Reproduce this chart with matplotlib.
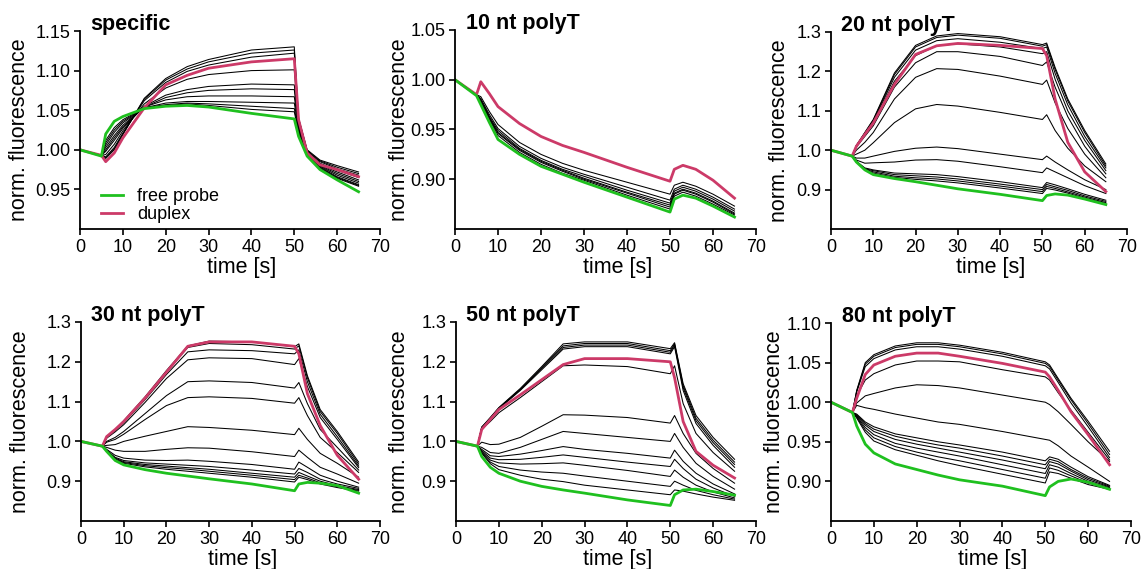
import matplotlib as mpl
import matplotlib.pyplot as plt
from matplotlib.ticker import FormatStrFormatter

mpl.use('Agg')
plt.rcParams['font.family'] = ['Liberation Sans', 'DejaVu Sans']

# sampling times [s], shared by every trace
t_s = [0, 5, 6, 8, 10, 15, 20, 25, 30, 40, 50, 51, 53, 56, 60, 65]

# --- specific ---
spec_free = [1.000, 0.992, 1.020, 1.036, 1.042, 1.052, 1.055, 1.056, 1.054, 1.046, 1.039, 1.017, 0.992, 0.975, 0.962, 0.947]
spec_duplex = [1.000, 0.993, 0.985, 0.996, 1.015, 1.053, 1.082, 1.094, 1.103, 1.111, 1.115, 1.038, 0.996, 0.981, 0.975, 0.966]
spec_titr = [
    [1.000, 0.993, 0.989, 1.000, 1.019, 1.065, 1.090, 1.105, 1.114, 1.126, 1.130, 1.040, 1.000, 0.987, 0.980, 0.972],
    [1.000, 0.993, 0.990, 1.001, 1.020, 1.064, 1.088, 1.102, 1.111, 1.122, 1.126, 1.039, 0.999, 0.986, 0.978, 0.970],
    [1.000, 0.993, 0.991, 1.003, 1.021, 1.062, 1.085, 1.099, 1.107, 1.117, 1.122, 1.037, 0.998, 0.985, 0.976, 0.968],
    [1.000, 0.993, 0.994, 1.007, 1.024, 1.058, 1.078, 1.089, 1.095, 1.100, 1.101, 1.035, 0.997, 0.983, 0.974, 0.965],
    [1.000, 0.993, 0.998, 1.012, 1.027, 1.055, 1.069, 1.076, 1.080, 1.083, 1.082, 1.032, 0.996, 0.981, 0.972, 0.962],
    [1.000, 0.993, 1.000, 1.015, 1.029, 1.054, 1.066, 1.072, 1.075, 1.077, 1.076, 1.030, 0.995, 0.980, 0.970, 0.960],
    [1.000, 0.993, 1.003, 1.018, 1.031, 1.054, 1.063, 1.067, 1.068, 1.068, 1.067, 1.028, 0.994, 0.979, 0.968, 0.958],
    [1.000, 0.993, 1.006, 1.022, 1.034, 1.053, 1.059, 1.061, 1.061, 1.060, 1.059, 1.026, 0.993, 0.978, 0.966, 0.956],
    [1.000, 0.993, 1.009, 1.025, 1.036, 1.053, 1.057, 1.059, 1.058, 1.055, 1.052, 1.024, 0.993, 0.977, 0.965, 0.955],
    [1.000, 0.993, 1.012, 1.028, 1.038, 1.053, 1.056, 1.058, 1.056, 1.051, 1.048, 1.022, 0.993, 0.976, 0.964, 0.954],
]

# --- 10 nt polyT ---
t10_free = [1.000, 0.984, 0.975, 0.957, 0.940, 0.925, 0.913, 0.905, 0.897, 0.882, 0.867, 0.880, 0.884, 0.881, 0.873, 0.862]
t10_duplex = [1.000, 0.985, 0.998, 0.986, 0.973, 0.956, 0.943, 0.934, 0.927, 0.912, 0.898, 0.910, 0.914, 0.910, 0.899, 0.881]
t10_titr = [
    [1.000, 0.985, 0.983, 0.968, 0.955, 0.937, 0.925, 0.916, 0.909, 0.897, 0.885, 0.894, 0.897, 0.893, 0.885, 0.873],
    [1.000, 0.985, 0.981, 0.965, 0.951, 0.933, 0.921, 0.912, 0.905, 0.892, 0.879, 0.890, 0.894, 0.890, 0.882, 0.870],
    [1.000, 0.985, 0.980, 0.963, 0.949, 0.931, 0.919, 0.910, 0.903, 0.889, 0.876, 0.888, 0.892, 0.888, 0.880, 0.868],
    [1.000, 0.985, 0.979, 0.962, 0.947, 0.930, 0.918, 0.909, 0.901, 0.887, 0.874, 0.886, 0.890, 0.886, 0.878, 0.866],
    [1.000, 0.985, 0.978, 0.961, 0.946, 0.929, 0.917, 0.908, 0.900, 0.886, 0.872, 0.885, 0.889, 0.885, 0.877, 0.865],
    [1.000, 0.985, 0.977, 0.960, 0.944, 0.927, 0.915, 0.906, 0.899, 0.884, 0.870, 0.883, 0.887, 0.883, 0.875, 0.864],
]

# --- 20 nt polyT ---
t20_free = [1.000, 0.985, 0.970, 0.950, 0.938, 0.928, 0.920, 0.911, 0.902, 0.888, 0.872, 0.885, 0.889, 0.886, 0.876, 0.862]
t20_duplex = [1.000, 0.985, 1.010, 1.040, 1.069, 1.167, 1.243, 1.265, 1.271, 1.266, 1.258, 1.240, 1.130, 1.020, 0.945, 0.895]
t20_titr = [
    [1.000, 0.985, 1.012, 1.045, 1.078, 1.196, 1.266, 1.290, 1.296, 1.288, 1.268, 1.272, 1.210, 1.130, 1.050, 0.965],
    [1.000, 0.985, 1.012, 1.044, 1.076, 1.192, 1.262, 1.286, 1.292, 1.284, 1.264, 1.268, 1.205, 1.125, 1.045, 0.960],
    [1.000, 0.985, 1.011, 1.042, 1.073, 1.185, 1.254, 1.278, 1.283, 1.274, 1.258, 1.262, 1.195, 1.115, 1.035, 0.955],
    [1.000, 0.985, 1.010, 1.040, 1.070, 1.175, 1.240, 1.265, 1.270, 1.262, 1.245, 1.250, 1.180, 1.100, 1.025, 0.948],
    [1.000, 0.985, 1.008, 1.035, 1.062, 1.160, 1.222, 1.250, 1.250, 1.238, 1.215, 1.224, 1.160, 1.085, 1.010, 0.940],
    [1.000, 0.985, 1.000, 1.020, 1.045, 1.130, 1.185, 1.207, 1.205, 1.188, 1.167, 1.178, 1.120, 1.055, 0.990, 0.930],
    [1.000, 0.985, 0.990, 1.000, 1.019, 1.070, 1.105, 1.116, 1.112, 1.096, 1.078, 1.090, 1.050, 1.005, 0.960, 0.920],
    [1.000, 0.985, 0.980, 0.980, 0.985, 0.997, 1.005, 1.008, 1.004, 0.990, 0.976, 0.985, 0.970, 0.950, 0.925, 0.900],
    [1.000, 0.985, 0.975, 0.967, 0.968, 0.970, 0.975, 0.976, 0.972, 0.958, 0.943, 0.955, 0.945, 0.930, 0.910, 0.890],
    [1.000, 0.985, 0.972, 0.955, 0.950, 0.942, 0.940, 0.938, 0.933, 0.920, 0.905, 0.918, 0.912, 0.902, 0.888, 0.873],
    [1.000, 0.985, 0.971, 0.953, 0.948, 0.938, 0.935, 0.932, 0.927, 0.914, 0.900, 0.913, 0.907, 0.898, 0.884, 0.870],
    [1.000, 0.985, 0.970, 0.952, 0.945, 0.934, 0.930, 0.927, 0.922, 0.909, 0.895, 0.908, 0.903, 0.894, 0.881, 0.867],
    [1.000, 0.985, 0.970, 0.951, 0.942, 0.931, 0.926, 0.922, 0.917, 0.904, 0.890, 0.903, 0.899, 0.891, 0.878, 0.865],
]

# --- 30 nt polyT ---
t30_free = [1.000, 0.988, 0.975, 0.952, 0.941, 0.929, 0.920, 0.913, 0.906, 0.893, 0.876, 0.893, 0.897, 0.895, 0.889, 0.870]
t30_duplex = [1.000, 0.988, 1.012, 1.030, 1.050, 1.109, 1.174, 1.239, 1.250, 1.250, 1.239, 1.220, 1.120, 1.040, 0.965, 0.905]
t30_titr = [
    [1.000, 0.988, 1.012, 1.030, 1.052, 1.112, 1.178, 1.240, 1.252, 1.250, 1.238, 1.245, 1.165, 1.080, 1.025, 0.948],
    [1.000, 0.988, 1.011, 1.029, 1.050, 1.110, 1.175, 1.236, 1.246, 1.243, 1.232, 1.240, 1.160, 1.075, 1.020, 0.943],
    [1.000, 0.988, 1.010, 1.027, 1.047, 1.105, 1.168, 1.225, 1.230, 1.228, 1.220, 1.230, 1.150, 1.068, 1.012, 0.938],
    [1.000, 0.988, 1.008, 1.024, 1.042, 1.098, 1.158, 1.205, 1.210, 1.208, 1.193, 1.208, 1.138, 1.060, 1.005, 0.934],
    [1.000, 0.988, 1.000, 1.010, 1.025, 1.070, 1.115, 1.150, 1.152, 1.148, 1.134, 1.148, 1.095, 1.030, 0.985, 0.928],
    [1.000, 0.988, 0.998, 1.005, 1.018, 1.055, 1.090, 1.110, 1.112, 1.108, 1.096, 1.110, 1.065, 1.010, 0.972, 0.922],
    [1.000, 0.988, 0.990, 0.992, 1.000, 1.013, 1.025, 1.037, 1.035, 1.028, 1.017, 1.033, 1.005, 0.970, 0.945, 0.910],
    [1.000, 0.988, 0.985, 0.978, 0.975, 0.975, 0.980, 0.984, 0.983, 0.974, 0.962, 0.978, 0.960, 0.935, 0.918, 0.895],
    [1.000, 0.988, 0.980, 0.965, 0.958, 0.953, 0.952, 0.953, 0.950, 0.942, 0.930, 0.948, 0.935, 0.915, 0.900, 0.885],
    [1.000, 0.988, 0.978, 0.960, 0.952, 0.946, 0.943, 0.940, 0.937, 0.928, 0.918, 0.932, 0.922, 0.905, 0.893, 0.882],
    [1.000, 0.988, 0.977, 0.958, 0.949, 0.942, 0.938, 0.934, 0.930, 0.920, 0.910, 0.922, 0.913, 0.900, 0.889, 0.879],
    [1.000, 0.988, 0.976, 0.956, 0.947, 0.939, 0.934, 0.930, 0.925, 0.915, 0.904, 0.915, 0.908, 0.896, 0.886, 0.877],
    [1.000, 0.988, 0.975, 0.954, 0.945, 0.936, 0.930, 0.925, 0.920, 0.910, 0.898, 0.910, 0.904, 0.893, 0.884, 0.875],
]

# --- 50 nt polyT ---
t50_free = [1.000, 0.988, 0.962, 0.935, 0.920, 0.900, 0.887, 0.878, 0.870, 0.853, 0.839, 0.866, 0.878, 0.880, 0.874, 0.865]
t50_duplex = [1.000, 0.988, 1.030, 1.055, 1.080, 1.117, 1.155, 1.193, 1.208, 1.208, 1.200, 1.160, 1.050, 0.975, 0.940, 0.908]
t50_titr = [
    [1.000, 0.988, 1.036, 1.060, 1.085, 1.133, 1.188, 1.245, 1.250, 1.250, 1.233, 1.248, 1.145, 1.065, 1.010, 0.955],
    [1.000, 0.988, 1.035, 1.059, 1.084, 1.131, 1.185, 1.240, 1.246, 1.246, 1.228, 1.245, 1.140, 1.058, 1.003, 0.948],
    [1.000, 0.988, 1.035, 1.058, 1.083, 1.130, 1.183, 1.236, 1.242, 1.242, 1.224, 1.242, 1.135, 1.052, 0.997, 0.942],
    [1.000, 0.988, 1.034, 1.057, 1.082, 1.128, 1.180, 1.232, 1.238, 1.238, 1.220, 1.238, 1.128, 1.045, 0.990, 0.935],
    [1.000, 0.988, 1.030, 1.050, 1.072, 1.110, 1.150, 1.190, 1.192, 1.188, 1.170, 1.190, 1.095, 1.020, 0.972, 0.925],
    [1.000, 0.988, 0.998, 0.992, 0.993, 1.010, 1.038, 1.067, 1.066, 1.060, 1.046, 1.065, 1.020, 0.970, 0.932, 0.895],
    [1.000, 0.988, 0.985, 0.972, 0.970, 0.985, 1.005, 1.025, 1.020, 1.010, 1.000, 1.020, 0.985, 0.945, 0.912, 0.880],
    [1.000, 0.988, 0.980, 0.964, 0.962, 0.968, 0.977, 0.987, 0.980, 0.970, 0.958, 0.978, 0.950, 0.920, 0.893, 0.868],
    [1.000, 0.988, 0.977, 0.958, 0.954, 0.955, 0.960, 0.966, 0.960, 0.948, 0.937, 0.955, 0.932, 0.905, 0.883, 0.862],
    [1.000, 0.988, 0.975, 0.953, 0.946, 0.943, 0.944, 0.946, 0.940, 0.927, 0.912, 0.928, 0.910, 0.890, 0.873, 0.858],
    [1.000, 0.988, 0.972, 0.948, 0.937, 0.928, 0.923, 0.920, 0.913, 0.900, 0.887, 0.900, 0.890, 0.877, 0.866, 0.855],
    [1.000, 0.988, 0.970, 0.944, 0.929, 0.915, 0.905, 0.899, 0.890, 0.878, 0.866, 0.878, 0.875, 0.868, 0.860, 0.852],
]

# --- 80 nt polyT ---
t80_free = [1.000, 0.987, 0.970, 0.947, 0.936, 0.922, 0.915, 0.908, 0.902, 0.894, 0.882, 0.893, 0.900, 0.903, 0.899, 0.890]
t80_duplex = [1.000, 0.987, 1.005, 1.035, 1.047, 1.058, 1.062, 1.062, 1.058, 1.049, 1.038, 1.032, 1.015, 0.988, 0.959, 0.921]
t80_titr = [
    [1.000, 0.987, 1.015, 1.050, 1.060, 1.071, 1.075, 1.075, 1.072, 1.063, 1.051, 1.047, 1.030, 1.005, 0.976, 0.938],
    [1.000, 0.987, 1.014, 1.048, 1.058, 1.069, 1.073, 1.073, 1.070, 1.061, 1.049, 1.045, 1.028, 1.003, 0.973, 0.934],
    [1.000, 0.987, 1.013, 1.045, 1.055, 1.066, 1.070, 1.070, 1.067, 1.058, 1.046, 1.042, 1.025, 0.999, 0.969, 0.930],
    [1.000, 0.987, 1.008, 1.028, 1.036, 1.047, 1.052, 1.052, 1.051, 1.041, 1.032, 1.028, 1.012, 0.990, 0.962, 0.927],
    [1.000, 0.987, 0.999, 1.008, 1.011, 1.018, 1.022, 1.021, 1.018, 1.009, 1.000, 0.997, 0.988, 0.972, 0.950, 0.925],
    [1.000, 0.987, 0.996, 0.993, 0.991, 0.985, 0.980, 0.975, 0.972, 0.963, 0.953, 0.952, 0.945, 0.932, 0.918, 0.900],
    [1.000, 0.987, 0.985, 0.975, 0.969, 0.960, 0.955, 0.950, 0.946, 0.937, 0.926, 0.931, 0.928, 0.918, 0.906, 0.895],
    [1.000, 0.987, 0.984, 0.973, 0.966, 0.957, 0.951, 0.946, 0.942, 0.932, 0.921, 0.928, 0.925, 0.915, 0.904, 0.894],
    [1.000, 0.987, 0.983, 0.971, 0.963, 0.953, 0.947, 0.942, 0.937, 0.927, 0.916, 0.925, 0.922, 0.913, 0.902, 0.893],
    [1.000, 0.987, 0.982, 0.968, 0.959, 0.948, 0.942, 0.937, 0.932, 0.921, 0.910, 0.921, 0.918, 0.910, 0.900, 0.892],
    [1.000, 0.987, 0.981, 0.965, 0.955, 0.944, 0.937, 0.931, 0.926, 0.915, 0.904, 0.917, 0.914, 0.907, 0.898, 0.891],
    [1.000, 0.987, 0.980, 0.962, 0.951, 0.940, 0.933, 0.926, 0.920, 0.909, 0.898, 0.912, 0.910, 0.904, 0.896, 0.890],
]

titles = ['specific', '10 nt polyT', '20 nt polyT', '30 nt polyT', '50 nt polyT', '80 nt polyT']
ylims = [(0.90, 1.15), (0.85, 1.05), (0.80, 1.30), (0.80, 1.30), (0.80, 1.30), (0.85, 1.10)]
yticks = [[0.95, 1.00, 1.05, 1.10, 1.15], [0.90, 0.95, 1.00, 1.05], [0.9, 1.0, 1.1, 1.2, 1.3],
          [0.9, 1.0, 1.1, 1.2, 1.3], [0.9, 1.0, 1.1, 1.2, 1.3], [0.90, 0.95, 1.00, 1.05, 1.10]]
yfmt = ['%.2f', '%.2f', '%.1f', '%.1f', '%.1f', '%.2f']

free_all = [spec_free, t10_free, t20_free, t30_free, t50_free, t80_free]
duplex_all = [spec_duplex, t10_duplex, t20_duplex, t30_duplex, t50_duplex, t80_duplex]
titr_all = [spec_titr, t10_titr, t20_titr, t30_titr, t50_titr, t80_titr]

GREEN = '#1fc01f'
RED = '#cc3a68'

W, H = 1143, 569
# axes boxes in pixels: left, top, right, bottom
boxes = [(80, 31, 380, 229), (455, 30, 756, 229), (831, 32, 1127, 229),
         (81, 322, 380, 521), (456, 322, 756, 521), (831, 323, 1131, 521)]
ylab_x = [-0.165, -0.15, -0.14, -0.168, -0.153, -0.152]

fig = plt.figure(figsize=(W / 100, H / 100), dpi=100)

for i in range(6):
    l, tp, r, b = boxes[i]
    ax = fig.add_axes([l / W, 1 - b / H, (r - l) / W, (b - tp) / H])
    for curve in titr_all[i]:
        ax.plot(t_s, curve, color='black', lw=0.75)
    ax.plot(t_s, duplex_all[i], color=RED, lw=2.0, label='duplex')
    ax.plot(t_s, free_all[i], color=GREEN, lw=2.0, label='free probe')

    ax.set_xlim(0, 70)
    ax.set_ylim(*ylims[i])
    ax.set_xticks(range(0, 71, 10))
    ax.set_yticks(yticks[i])
    ax.yaxis.set_major_formatter(FormatStrFormatter(yfmt[i]))
    for s in ['top', 'right']:
        ax.spines[s].set_visible(False)
    for s in ['left', 'bottom']:
        ax.spines[s].set_linewidth(1.3)
    ax.tick_params(direction='out', length=4, width=1.2, labelsize=13, pad=3)

    ax.set_xlabel('time [s]', fontsize=15.5)
    ax.xaxis.set_label_coords(0.54, -0.14)
    ax.set_ylabel('norm. fluorescence', fontsize=15.5)
    ax.yaxis.set_label_coords(ylab_x[i], 0.5)
    ax.text(0.035, 1.005, titles[i], transform=ax.transAxes, fontsize=15.5,
            fontweight='bold', va='baseline', ha='left')

    if i == 0:
        h, lab = ax.get_legend_handles_labels()
        ax.legend(h[::-1], lab[::-1], loc='lower left', bbox_to_anchor=(0.07, 0.03),
                  frameon=False, fontsize=13, handlelength=1.2, handletextpad=0.8,
                  labelspacing=0.05, borderpad=0, borderaxespad=0)

plt.savefig('out.png', dpi=100)
